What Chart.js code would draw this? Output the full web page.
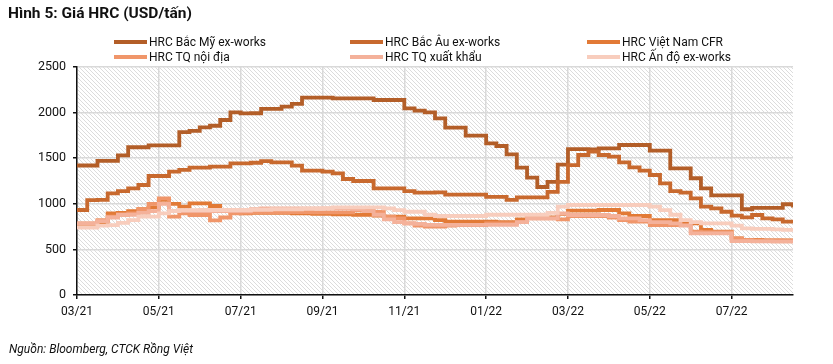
<!DOCTYPE html>
<html><head><meta charset="utf-8">
<script src="https://cdn.jsdelivr.net/npm/chart.js@4/dist/chart.umd.min.js"></script>
<style>
html,body{margin:0;padding:0;background:#fff;}
#wrap{position:relative;width:833px;height:364px;overflow:hidden;font-family:Roboto,"Liberation Sans",Arial,sans-serif;color:#111;}
canvas{position:absolute;left:0;top:0;}
#title{position:absolute;left:8px;top:4px;font-weight:bold;font-size:15.5px;line-height:18px;white-space:nowrap;}
.item{position:absolute;height:14px;display:flex;align-items:center;font-size:12px;line-height:14px;white-space:nowrap;}
.sw{width:33px;height:4px;margin-right:2px;flex:none;}
#source{position:absolute;left:9px;top:342px;font-style:italic;font-size:12px;line-height:15px;white-space:nowrap;}
</style></head>
<body>
<div id="wrap">
<canvas id="c" width="833" height="364"></canvas>
<div id="title">Hình 5: Giá HRC (USD/tấn)</div>
<div id="legend"></div>
<div id="source">Nguồn: Bloomberg, CTCK Rồng Việt</div>
</div>
<script>
// x tick labels (every 2 months, starting 03/2021); data sampled ~weekly (quarter-month)
const tickLabels = ['03/21','05/21','07/21','09/21','11/21','01/22','03/22','05/22','07/22'];
const seriesNames = ['HRC Bắc Mỹ ex-works','HRC Bắc Âu ex-works','HRC Việt Nam CFR','HRC TQ nội địa','HRC TQ xuất khẩu','HRC Ấn độ ex-works'];

const bacMy = [1420,1420,1470,1470,1530,1620,1620,1640,1640,1640,1785,1800,1839,1856,1919,2003,1992,1993,2040,2040,
  2065,2095,2165,2165,2165,2157,2157,2157,2157,2138,2138,2138,2047,2021,2003,1937,1835,1835,1747,1747,
  1663,1634,1542,1396,1286,1184,1240,1430,1600,1600,1597,1608,1608,1645,1645,1645,1582,1582,1389,1389,
  1280,1170,1093,1093,1093,940,955,955,955,995,960];
const bacAu = [932,1040,1042,1115,1140,1170,1206,1305,1305,1352,1371,1396,1396,1407,1407,1444,1444,1450,1469,1455,
  1455,1418,1363,1363,1352,1334,1272,1250,1250,1170,1170,1170,1140,1122,1122,1126,1100,1100,1100,1100,
  1075,1075,1042,1070,1070,1070,1130,1240,1425,1535,1571,1535,1517,1455,1400,1363,1316,1225,1140,1122,
  1060,968,950,913,870,852,877,841,830,804,804];
const vietNam = [760,770,800,896,900,920,940,960,1042,1000,968,1005,1005,976,930,900,896,900,900,900,
  900,896,896,890,890,885,885,880,880,870,859,859,841,841,841,820,804,804,804,804,
  804,800,800,830,852,852,852,890,925,925,925,932,932,896,866,866,822,822,822,786,
  786,713,694,694,620,603,603,600,600,598,598];
const tqNoiDia = [786,786,820,860,880,896,940,1000,1060,860,896,877,877,819,850,896,900,910,910,910,
  910,910,910,905,905,905,905,932,932,910,860,840,786,760,749,749,760,767,767,767,
  786,786,786,800,841,841,841,830,866,866,866,866,850,820,804,804,767,767,767,767,
  694,690,690,690,621,603,600,600,598,595,595];
const tqXuatKhau = [786,786,810,850,880,880,900,920,1000,920,920,920,920,920,920,920,920,940,950,950,
  950,950,950,950,950,950,950,940,920,880,830,800,786,780,770,770,770,770,770,770,
  770,770,770,800,841,841,841,896,877,877,877,877,866,841,841,822,800,800,786,760,
  676,676,676,676,590,590,588,588,585,585,585];
const anDo = [740,740,760,767,790,820,859,859,896,920,930,930,932,932,932,932,932,935,935,940,
  940,940,945,945,950,961,961,961,961,961,950,930,913,913,880,866,866,866,866,866,
  880,880,880,880,880,880,900,968,987,987,987,987,987,987,987,987,968,930,880,822,
  800,786,786,786,760,731,725,725,720,715,713];

const seriesValues = [bacMy, bacAu, vietNam, tqNoiDia, tqXuatKhau, anDo];
const colors = ['#B35E28','#C8692E','#E27A36','#F0966A','#F4B19A','#F8CDBD'];
const legendPos = [[114,35],[350,35],[587,35],[114,50],[350,50],[587,50]];

// HTML legend
const lg = document.getElementById('legend');
seriesNames.forEach((n, i) => {
  const d = document.createElement('div');
  d.className = 'item';
  d.style.left = legendPos[i][0] + 'px';
  d.style.top = legendPos[i][1] + 'px';
  const s = document.createElement('span'); s.className = 'sw'; s.style.background = colors[i];
  d.appendChild(s);
  d.appendChild(document.createTextNode(n));
  lg.appendChild(d);
});

const hatch = {
  id: 'hatch',
  beforeDraw(chart) {
    const {ctx, chartArea: a} = chart;
    const p = document.createElement('canvas'); p.width = 4; p.height = 4;
    const pc = p.getContext('2d');
    pc.fillStyle = '#ffffff'; pc.fillRect(0, 0, 4, 4);
    pc.fillStyle = '#dcdcdc';
    for (let i = 0; i < 4; i++) pc.fillRect(i, i, 1, 1);
    ctx.save();
    ctx.fillStyle = ctx.createPattern(p, 'repeat');
    ctx.fillRect(a.left, a.top, a.right - a.left, a.bottom - a.top);
    ctx.restore();
  }
};

const font = {family: 'Roboto', size: 12.5};
new Chart(document.getElementById('c'), {
  type: 'line',
  data: {
    datasets: seriesValues.map((vals, i) => ({
      label: seriesNames[i],
      data: vals.map((v, k) => ({x: k / 4, y: v})),
      borderColor: colors[i],
      backgroundColor: colors[i],
      borderWidth: 3.8,
      pointRadius: 0,
      stepped: true,
      fill: false,
      order: seriesValues.length - i
    }))
  },
  options: {
    responsive: false,
    animation: false,
    events: [],
    layout: {padding: {left: 0, top: 67, right: 40, bottom: 0}},
    plugins: {legend: {display: false}, tooltip: {enabled: false}},
    scales: {
      x: {
        type: 'linear', min: 0, max: 17.5,
        afterBuildTicks: s => { s.ticks = tickLabels.map((_, i) => ({value: i * 2})); },
        afterFit: s => { s.height = 69; },
        ticks: {callback: (v, i) => tickLabels[i], font: {family: 'Roboto', size: 12}, color: '#111', padding: 6, maxRotation: 0, autoSkip: false},
        grid: {color: '#d9d9d9', lineWidth: 1.5, tickColor: '#111', tickLength: 4},
        border: {color: '#111', width: 1.5}
      },
      y: {
        min: 0, max: 2500,
        afterFit: s => { s.width = 77; },
        ticks: {stepSize: 500, font: font, color: '#111', padding: 7, callback: v => String(v)},
        grid: {color: '#d9d9d9', lineWidth: 1.5, tickColor: '#111', tickLength: 4},
        border: {color: '#111', width: 1.5}
      }
    }
  },
  plugins: [hatch]
});
</script>
</body></html>
